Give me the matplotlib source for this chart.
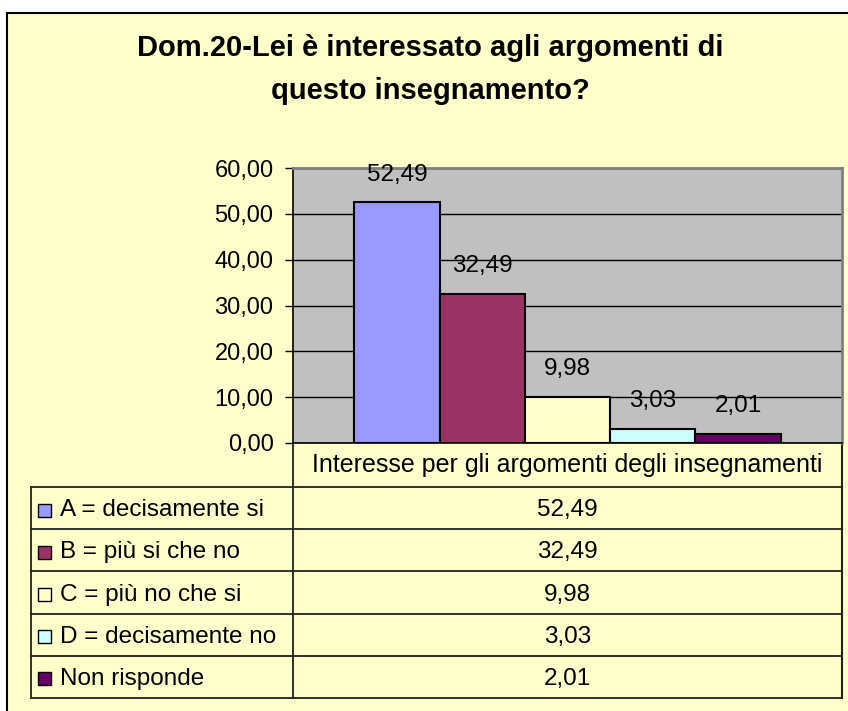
import numpy as np
import matplotlib
matplotlib.use("Agg")
import matplotlib.pyplot as plt
from matplotlib.patches import Rectangle

plt.rcParams['font.family'] = ['Liberation Sans', 'DejaVu Sans']

# Data
title = "Dom.20-Lei è interessato agli argomenti di\nquesto insegnamento?"
category = "Interesse per gli argomenti degli insegnamenti"
series = ["A = decisamente si", "B = più si che no", "C = più no che si",
          "D = decisamente no", "Non risponde"]
values = [52.49, 32.49, 9.98, 3.03, 2.01]
colors = ["#9999FF", "#993366", "#FFFFCC", "#CCFFFF", "#660066"]
yticks = [0, 10, 20, 30, 40, 50, 60]


def fmt(v):
    return f"{v:.2f}".replace(".", ",")


W, H = 848, 711
fig = plt.figure(figsize=(W / 100, H / 100), dpi=100, facecolor="white")

# background layer in pixel coordinates
bg = fig.add_axes([0, 0, 1, 1], zorder=-1)
bg.set_xlim(0, W)
bg.set_ylim(H, 0)
bg.axis("off")
bg.add_patch(Rectangle((7, 13), 1000, 1000, facecolor="#FFFFCC",
                       edgecolor="black", lw=1.5))

# plot area
px0, px1, py0, py1 = 293, 842, 168, 443
ax = fig.add_axes([px0 / W, 1 - py1 / H, (px1 - px0) / W, (py1 - py0) / H])
ax.set_facecolor("#C0C0C0")
x = np.arange(len(values)) - (len(values) - 1) / 2
bars = ax.bar(x, values, width=1.0, color=colors, edgecolor="black", lw=1.5, zorder=3)
ax.set_xlim(-3.22, 3.22)
ax.set_ylim(0, 60)
ax.set_yticks(yticks)
ax.set_yticklabels([fmt(v) for v in yticks], fontsize=17)
ax.tick_params(axis="y", length=6, width=1, pad=8)
ax.set_xticks([])
ax.yaxis.grid(True, color="black", lw=1)
ax.set_axisbelow(True)
for s in ["left", "bottom"]:
    ax.spines[s].set_color("black")
    ax.spines[s].set_linewidth(1.2)
for s in ["top", "right"]:
    ax.spines[s].set_color("#808080")
    ax.spines[s].set_linewidth(2)
for b, v in zip(bars, values):
    ax.annotate(fmt(v), (b.get_x() + b.get_width() / 2, v), xytext=(0, 20),
                textcoords="offset points", ha="center", va="center",
                fontsize=17.5, zorder=4)

fig.text(430 / W, 1 - 69.5 / H, title, ha="center", va="center",
         fontsize=21, fontweight="bold", linespacing=1.72)

# data table under the axis
tx0 = 31
hdr_bot = 487
row_h = 42.2
n = len(series)
tab_bot = hdr_bot + n * row_h
lc = "#222222"
bg.plot([px0, px0], [py1, tab_bot], color=lc, lw=1.3)
bg.plot([px1, px1], [py1, tab_bot], color=lc, lw=1.5)
bg.plot([tx0, tx0], [hdr_bot, tab_bot], color=lc, lw=1.3)
for i in range(n + 1):
    yy = hdr_bot + i * row_h
    bg.plot([tx0, px1], [yy, yy], color=lc, lw=1.3)
bg.text((px0 + px1) / 2, (py1 + hdr_bot) / 2, category, ha="center",
        va="center", fontsize=18)
for i, (name, v, c) in enumerate(zip(series, values, colors)):
    cy = hdr_bot + (i + 0.5) * row_h + 2
    bg.add_patch(Rectangle((38, cy - 6.5), 13, 13, facecolor=c,
                           edgecolor="black", lw=1))
    bg.text(60, cy, name, ha="left", va="center", fontsize=17.5)
    bg.text((px0 + px1) / 2, cy, fmt(v), ha="center", va="center", fontsize=17.5)

fig.savefig("out.png", dpi=100, facecolor="white")
